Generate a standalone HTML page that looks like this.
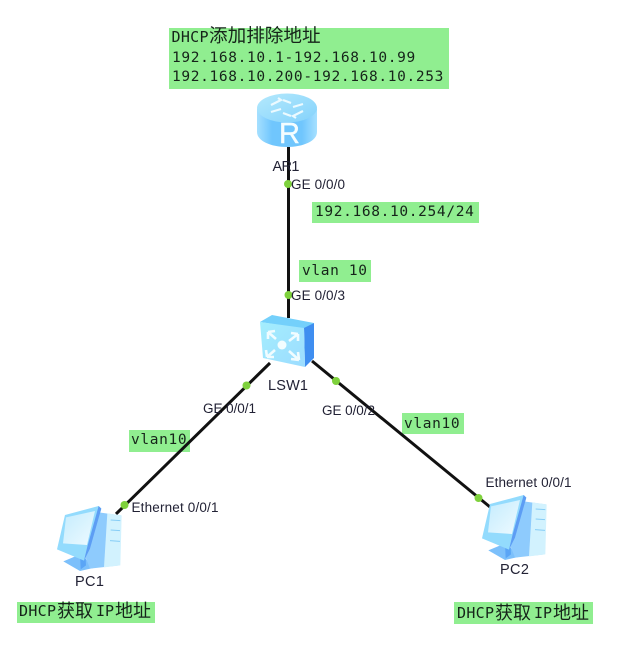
<!DOCTYPE html>
<html>
<head>
<meta charset="utf-8">
<style>
html,body{margin:0;padding:0;background:#fff;width:620px;height:658px;overflow:hidden}
svg{display:block;filter:blur(.35px)}
.m{font-family:"DejaVu Sans Mono","Liberation Mono","Noto Sans CJK SC",monospace;font-size:14.500px;fill:#16241a;letter-spacing:.65px}
.c{font-family:"DejaVu Sans Mono","Noto Sans CJK SC",monospace;font-size:15px;fill:#16241a}
.z{font-family:"Noto Sans CJK SC",sans-serif;font-size:18px;fill:#16241a}
.z2{font-family:"Noto Sans CJK SC",sans-serif;font-size:18.600px;fill:#16241a}
.l{font-family:"Liberation Sans",Arial,sans-serif;font-size:13.500px;fill:#222235}
.n{font-family:"Liberation Sans",Arial,sans-serif;font-size:14.500px;fill:#222235}
</style>
</head>
<body>
<svg width="620" height="658" viewBox="0 0 620 658" xmlns="http://www.w3.org/2000/svg">
<defs>
<linearGradient id="rb" x1="0" x2="1" y1="0" y2="0">
<stop offset="0" stop-color="#a6e0ff"/><stop offset=".25" stop-color="#70c6fd"/><stop offset=".75" stop-color="#70c6fd"/><stop offset="1" stop-color="#a6e0ff"/>
</linearGradient>
<linearGradient id="rt" x1="0" x2="1" y1="0" y2="1">
<stop offset="0" stop-color="#b4e9fd"/><stop offset="1" stop-color="#84d2fb"/>
</linearGradient>
<linearGradient id="sf" x1="0" x2="1" y1="0" y2="1">
<stop offset="0" stop-color="#a4eefd"/><stop offset="1" stop-color="#9cdcff"/>
</linearGradient>
<linearGradient id="sc" x1="0" x2="1" y1="0" y2="1">
<stop offset="0" stop-color="#c4ecfe"/><stop offset="1" stop-color="#eefaff"/>
</linearGradient>
<g id="pc">
<path d="M190 214 L240 193 L288 232 L240 243 Z" fill="#7cc0fb"/>
<path d="M240 190 L256 184 L258 226 L242 238 Z" fill="#5aa5f6"/>
<path d="M288 66 L362 76 L358 226 L270 236 L252 190 Z" fill="#8ecbfd"/>
<path d="M322 70 L365 76 L361 226 L312 232 Z" fill="#d2f2fe"/>
<path d="M332 90 L361 92 M332 120 L360 122 M330 152 L360 154" stroke="#86cdf6" stroke-width="3" fill="none"/>
<path d="M171 178 L195 75 L296 48 L304 56 L270 176 L252 212 Z" fill="#93dbfd"/>
<path d="M296 48 L304 56 L270 176 L252 212 L262 170 Z" fill="#5d9df4"/>
<path d="M189 160 L198 82 L285 63 L261 165 Z" fill="url(#sc)"/>
</g>
</defs>

<!-- note boxes -->
<rect x="169" y="28" width="280" height="61" fill="#90ee90"/>
<rect x="312" y="202" width="167" height="21" fill="#90ee90"/>
<rect x="299" y="260" width="72" height="22" fill="#90ee90"/>
<rect x="402" y="413" width="62" height="21" fill="#90ee90"/>
<rect x="129" y="430" width="61" height="22" fill="#90ee90"/>
<rect x="17" y="602" width="138" height="21" fill="#90ee90"/>
<rect x="454" y="602" width="139" height="22" fill="#90ee90"/>

<!-- links -->
<g stroke="#111" stroke-width="3" stroke-linecap="butt" fill="none">
<line x1="288.500" y1="147" x2="288.500" y2="318"/>
<line x1="270" y1="363" x2="116" y2="514"/>
<line x1="312" y1="361" x2="490" y2="507"/>
</g>

<!-- router -->
<g>
<path d="M257 109 V132 C257 141 271 147 287 147 C303 147 317 141 317 132 V109 Z" fill="url(#rb)"/>
<ellipse cx="287" cy="108" rx="30" ry="14.500" fill="url(#rt)"/>
<path d="M271 105 L281 100 L278 98 M283 100 L291 103 M303 111 L293 116 L296 118 M291 116 L283 113 M271 112 L281 109 M303 104 L293 107" stroke="#ecfaff" stroke-width="2.200" fill="none"/>
<text x="279" y="143" font-family="Liberation Sans,sans-serif" font-size="29" fill="#f4fdff" stroke="#f4fdff" stroke-width=".4">R</text>
</g>

<!-- switch -->
<g>
<path d="M260 322 L272 315 L314 323 L304 329 Z" fill="#74d0fb"/>
<path d="M304 328 L314 323 L314 358 L305 367 Z" fill="#3f8ef0"/>
<path d="M260 322 L304 328 L305 367 L263 358 Z" fill="url(#sf)"/>
<circle cx="282" cy="345" r="4.500" fill="#f2fdff"/>
<path d="M268 332 L276 339 M268 332 L275 331 M268 332 L268 339 M298 334 L289 341 M298 334 L291 333 M298 334 L298 341 M267 357 L275 350 M267 357 L266 350 M267 357 L274 357 M299 360 L289 351 M299 360 L298 352 M299 360 L291 359" stroke="#f0fcff" stroke-width="2.600" fill="none"/>
</g>

<!-- PCs -->
<use href="#pc" transform="translate(0,490) scale(.3333)"/>
<use href="#pc" transform="translate(425,479) scale(.3333)"/>

<!-- ports -->
<g fill="#7ed13c">
<circle cx="288" cy="184" r="4"/>
<circle cx="288.500" cy="295" r="4"/>
<circle cx="246.500" cy="385.500" r="4"/>
<circle cx="336" cy="381" r="4"/>
<circle cx="124.500" cy="505" r="4"/>
<circle cx="478.500" cy="498" r="4"/>
</g>

<!-- interface and device labels -->
<text class="n" x="272.500" y="171" textLength="27">AR1</text>
<text class="l" x="291" y="189" textLength="54">GE 0/0/0</text>
<text class="l" x="291" y="300" textLength="54">GE 0/0/3</text>
<text class="n" x="268" y="390" textLength="40">LSW1</text>
<text class="l" x="203" y="413" textLength="53">GE 0/0/1</text>
<text class="l" x="322" y="415" textLength="53">GE 0/0/2</text>
<text class="l" x="131.500" y="512" textLength="87">Ethernet 0/0/1</text>
<text class="l" x="485.500" y="487" textLength="86">Ethernet 0/0/1</text>
<text class="n" x="75" y="586" textLength="29">PC1</text>
<text class="n" x="500" y="574" textLength="29">PC2</text>

<!-- notes -->
<text class="c" x="171.500" y="42" textLength="37">DHCP</text>
<text class="z2" x="209" y="42">添加排除地址</text>
<text class="m" x="172" y="62">192.168.10.1-192.168.10.99</text>
<text class="m" x="172" y="81">192.168.10.200-192.168.10.253</text>
<text class="m" x="315" y="216">192.168.10.254/24</text>
<text class="m" x="302" y="275">vlan 10</text>
<text class="m" x="404" y="428">vlan10</text>
<text class="m" x="131" y="444">vlan10</text>
<text class="c" x="19" y="616" textLength="37">DHCP</text>
<text class="z" x="57" y="617">获取</text>
<text class="c" x="96" y="616" textLength="18">IP</text>
<text class="z" x="115" y="617">地址</text>
<text class="c" x="457" y="618" textLength="37">DHCP</text>
<text class="z" x="495" y="619">获取</text>
<text class="c" x="534" y="618" textLength="18">IP</text>
<text class="z" x="553" y="619">地址</text>
</svg>
</body>
</html>
